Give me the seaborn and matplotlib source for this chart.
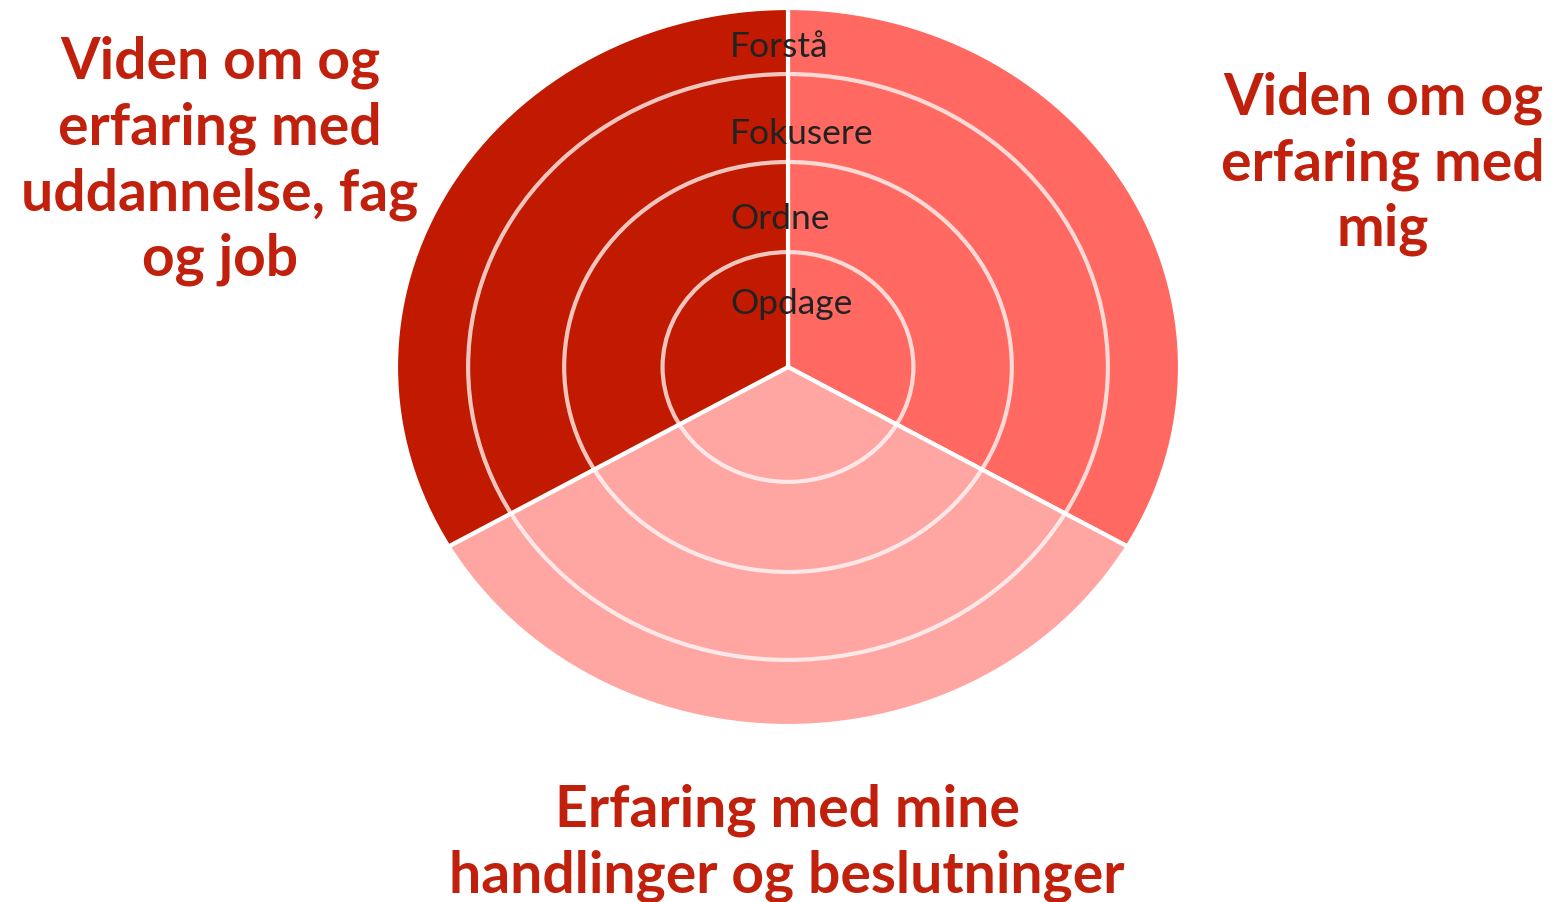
import matplotlib
matplotlib.use("Agg")
import matplotlib.pyplot as plt
import seaborn as sns
from matplotlib.patches import Circle

# Data
sectors = ["Viden om og\nerfaring med\nmig",
           "Erfaring med mine\nhandlinger og beslutninger",
           "Viden om og\nerfaring med\nuddannelse, fag\nog job"]
sector_sizes = [1, 1, 1]
sector_colors = ["#FF6961", "#FFA5A2", "#C11A00"]
levels = ["Opdage", "Ordne", "Fokusere", "Forstå"]
level_radii = [0.32, 0.571, 0.816, 1.0]

sns.set_theme(style="white")
plt.rcParams["font.family"] = ["Lato", "DejaVu Sans"]

fig = plt.figure(figsize=(15.55, 9.02), dpi=100)
ax = fig.add_axes([0, 0, 1, 1])

# Three sectors, clockwise from the top
ax.pie(sector_sizes, colors=sector_colors, startangle=90, counterclock=False,
       radius=level_radii[-1],
       wedgeprops=dict(edgecolor="white", linewidth=3))

# Ring boundaries
for r in level_radii[:-1]:
    ax.add_patch(Circle((0, 0), r, facecolor="none", edgecolor="white",
                        linewidth=3, alpha=0.75, zorder=5))

ax.set_aspect("auto")
ax.set_xlim(-788 / 392, (1555 - 788) / 392)
ax.set_ylim(-535 / 359, (902 - 535) / 359)
ax.axis("off")

# Level labels at the top of each ring
label_y = [304, 219, 134, 47]
for name, y in zip(levels, label_y):
    fig.text(730 / 1555, 1 - y / 902, name, ha="left", va="center",
             fontsize=25.5, color="#222222", zorder=10)

# Sector labels
red = "#C0200C"
sector_pos = [(1383, 164), (787, 843), (220, 161)]
for name, (x, y) in zip(sectors, sector_pos):
    fig.text(x / 1555, 1 - y / 902, name, ha="center", va="center",
             fontsize=41, fontweight="bold", color=red, linespacing=1.28)

fig.savefig("out.png", dpi=100)
